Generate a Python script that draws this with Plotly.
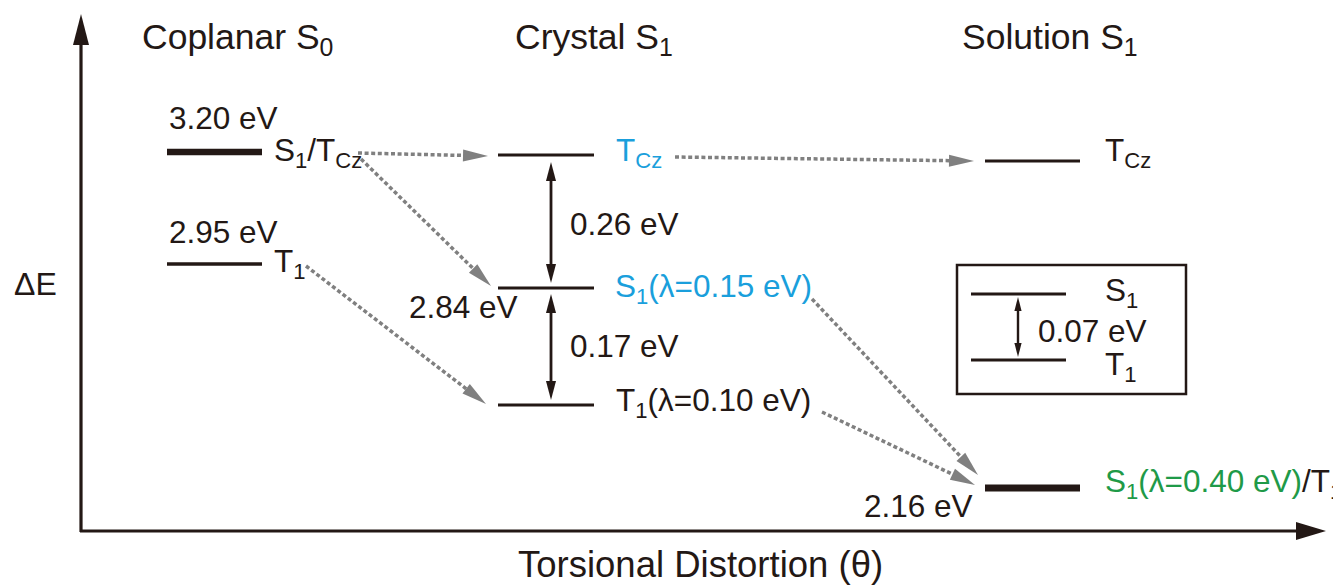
import math
import plotly.graph_objects as go

# ---------------- data ----------------
column_titles = ["Coplanar S<sub>0</sub>", "Crystal S<sub>1</sub>", "Solution S<sub>1</sub>"]

level_ids = ["cop_S1Tcz", "cop_T1", "cry_Tcz", "cry_S1", "cry_T1", "sol_Tcz", "sol_S1T1"]
level_energies = [3.20, 2.95, 3.10, 2.84, 2.67, None, 2.16]
energy_labels = ["3.20 eV", "2.95 eV", None, "2.84 eV", None, None, "2.16 eV"]
state_labels = [
    "S<sub>1</sub>/T<sub>Cz</sub>",
    "T<sub>1</sub>",
    "T<sub>Cz</sub>",
    "S<sub>1</sub>(λ=0.15 eV)",
    "T<sub>1</sub>(λ=0.10 eV)",
    "T<sub>Cz</sub>",
    "S<sub>1</sub>(λ=0.40 eV)",
]
gap_labels = ["0.26 eV", "0.17 eV", "0.07 eV"]
inset_labels = ["S<sub>1</sub>", "T<sub>1</sub>"]
transitions = [("cop_S1Tcz", "cry_Tcz"), ("cop_S1Tcz", "cry_S1"), ("cop_T1", "cry_T1"),
               ("cry_Tcz", "sol_Tcz"), ("cry_S1", "sol_S1T1"), ("cry_T1", "sol_S1T1")]
x_title = "Torsional Distortion (θ)"
y_title = "ΔE"

# ---------------- layout (schematic positions, px) ----------------
W, H = 1341, 586
OFF = 8  # page body margin
FONT = "Liberation Sans, Arial, sans-serif"
INK = "#231815"
GREY = "#808080"
BLUE = "#1a9fdc"
GREEN = "#1f9a48"

level_x0 = [167, 167, 498, 498, 498, 985, 985]
level_x1 = [262, 262, 594, 594, 594, 1080, 1080]
level_y = [152, 264, 155, 288, 405, 161, 488]
level_w = [6.5, 3.5, 3, 3, 3, 3, 7]
state_xy = [(272, 152), (272, 263), (614, 152), (613, 288), (614, 402), (1103, 152), (1103, 483)]
state_col = [INK, INK, BLUE, BLUE, INK, INK, GREEN]
energy_xy = [(167, 118), (167, 232), (520, 307), (975, 506)]
energy_anchor = ["left", "left", "right", "right"]
trans_start = [(358, 153), (361, 159), (306, 266), (675, 157), (812, 299), (822, 412)]
trans_tip = [(488, 156), (491, 286), (486, 404), (974, 161), (978, 475), (975, 485)]

fig = go.Figure()


def head(tip, frm, length, half, color):
    dx, dy = tip[0] - frm[0], tip[1] - frm[1]
    d = math.hypot(dx, dy)
    ux, uy = dx / d, dy / d
    bx, by = tip[0] - ux * length, tip[1] - uy * length
    px, py = -uy * half, ux * half
    fig.add_trace(go.Scatter(x=[tip[0], bx + px, bx - px, tip[0]], y=[tip[1], by + py, by - py, tip[1]],
                             fill="toself", fillcolor=color, line=dict(width=0, color=color),
                             mode="lines", hoverinfo="skip", showlegend=False))
    return bx, by


def line(p, q, color, width, dash=None):
    fig.add_trace(go.Scatter(x=[p[0], q[0]], y=[p[1], q[1]], mode="lines",
                             line=dict(color=color, width=width, dash=dash),
                             hoverinfo="skip", showlegend=False))


def text(x, y, s, size=31.5, color=INK, xa="left", ya="middle"):
    fig.add_annotation(x=x, y=y, text=s, showarrow=False, xanchor=xa, yanchor=ya,
                       font=dict(family=FONT, size=size, color=color))


# axes arrows
line((81, 532), (81, 40), INK, 3.2)
head((81, 14), (81, 100), 31, 8, INK)
line((80, 531), (1300, 531), INK, 3.2)
head((1326, 531), (1200, 531), 30, 9, INK)
text(35, 284, y_title, size=32, xa="center")
text(700, 564, x_title, size=36.5, xa="center")

# column titles
title_x = [237, 594, 1050]
for tx, t in zip(title_x, column_titles):
    text(tx, 39, t, size=35.5, xa="center")

# levels
for i in range(len(level_ids)):
    line((level_x0[i], level_y[i]), (level_x1[i], level_y[i]), INK, level_w[i])
    sx, sy = state_xy[i]
    lab = state_labels[i]
    if level_ids[i] == "sol_S1T1":
        lab = f'<span style="color:{GREEN}">{lab}</span><span style="color:{INK}">/T<sub>1</sub></span>'
    text(sx, sy, lab, color=state_col[i])

el = [e for e in energy_labels if e]
for (ex, ey), s, a in zip(energy_xy, el, energy_anchor):
    text(ex, ey, s, xa=a)

# transitions
for (a, b), st, tp in zip(transitions, trans_start, trans_tip):
    bx, by = head(tp, st, 25, 6, GREY)
    line(st, (bx, by), GREY, 3.5, dash="4px,2.6px")

# gap double arrows
gap_x = [551, 551, 1018]
gap_y = [(162, 283), (294, 400), (297, 357)]
gap_text_xy = [(568, 224), (568, 346), (1036, 331)]
gap_head = [(19, 5, 2.8), (19, 5, 2.8), (14, 3.6, 2.4)]
for gx, (y0, y1), (tx, ty), s, (hl, hw, lw) in zip(gap_x, gap_y, gap_text_xy, gap_labels, gap_head):
    line((gx, y0 + hl - 1), (gx, y1 - hl + 1), INK, lw)
    head((gx, y0), (gx, y1), hl, hw, INK)
    head((gx, y1), (gx, y0), hl, hw, INK)
    text(tx, ty, s)

# inset box
fig.add_shape(type="rect", x0=957, x1=1186, y0=265, y1=394, line=dict(color=INK, width=2.5))
line((971, 294), (1066, 294), INK, 3)
line((971, 360), (1066, 360), INK, 3)
text(1103, 292, inset_labels[0])
text(1103, 366, inset_labels[1])

fig.update_layout(
    width=W - OFF, height=H - OFF, margin=dict(l=0, r=0, t=0, b=0),
    paper_bgcolor="white", plot_bgcolor="white", showlegend=False,
    xaxis=dict(range=[OFF, W], visible=False, fixedrange=True),
    yaxis=dict(range=[H, OFF], visible=False, fixedrange=True),
)
fig.write_html("out.html")
